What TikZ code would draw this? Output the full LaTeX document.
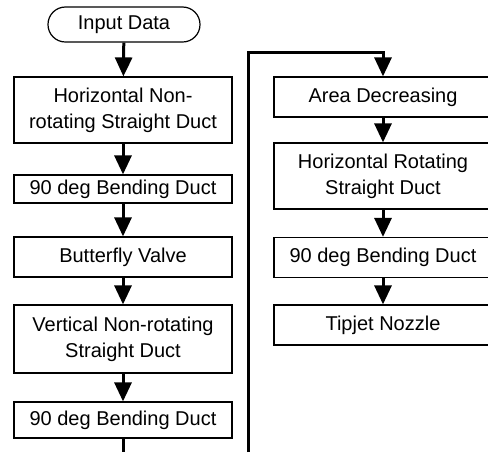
\documentclass[tikz,border=0pt]{standalone}
\usepackage{fontspec}
\setmainfont{Liberation Sans}
\usetikzlibrary{arrows.meta}
\begin{document}
\begin{tikzpicture}[x=0.5pt,y=-0.5pt, >={Triangle[length=9.5pt,width=8.5pt]},
every node/.style={font=\fontsize{10pt}{13pt}\selectfont},
box/.style={draw,line width=0.6pt,align=center,inner sep=0pt,minimum width=109pt},
term/.style={draw,line width=0.6pt,rounded corners=8.7pt,inner sep=0pt,minimum width=76pt,minimum height=17.5pt},
flow/.style={->,line width=1.5pt}]
\useasboundingbox (0,0) rectangle (488,452);
% left column
\node[term] (in) at (124,24.5) {Input Data};
\node[box,minimum height=33pt] (l1) at (123,110) {Horizontal Non-\\rotating Straight Duct};
\node[box,minimum height=14pt] (l2) at (123,189) {90 deg Bending Duct};
\node[box,minimum height=20pt] (l3) at (123,257) {Butterfly Valve};
\node[box,minimum height=34pt] (l4) at (123,339) {Vertical Non-rotating\\Straight Duct};
\node[box,minimum height=18pt] (l5) at (123,420) {90 deg Bending Duct};
% right column
\node[box,minimum height=20pt] (r1) at (383,97) {Area Decreasing};
\node[box,minimum height=33pt] (r2) at (383,176) {Horizontal Rotating\\Straight Duct};
\node[box,minimum height=20pt] (r3) at (383,257.5) {90 deg Bending Duct};
\node[box,minimum height=20pt] (r4) at (383,325) {Tipjet Nozzle};
\coordinate (bot1) at (123,452);
\coordinate (bot2) at (248,452);
\coordinate (top) at (383,52);
\draw[flow] (in) -- (l1);
\draw[flow] (l1) -- (l2);
\draw[flow] (l2) -- (l3);
\draw[flow] (l3) -- (l4);
\draw[flow] (l4) -- (l5);
\draw[line width=1.5pt] (l5) -- (bot1);
\draw[flow] (bot2) |- (top) -- (r1);
\draw[flow] (r1) -- (r2);
\draw[flow] (r2) -- (r3);
\draw[flow] (r3) -- (r4);
\end{tikzpicture}
\end{document}
